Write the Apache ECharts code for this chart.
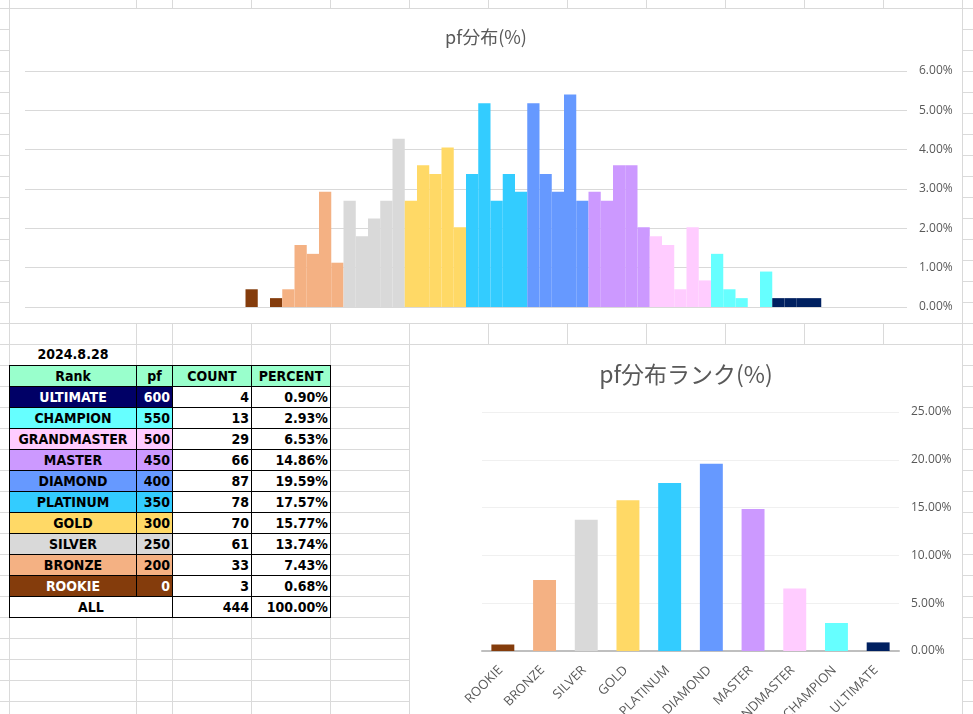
<!DOCTYPE html>
<html>
<head>
<meta charset="utf-8">
<script src="https://cdn.jsdelivr.net/npm/echarts@6/dist/echarts.min.js"></script>
<style>
  html,body{margin:0;padding:0;width:973px;height:714px;overflow:hidden;background:#fff;}
  #sheet{position:absolute;left:0;top:0;width:973px;height:714px;}
  .vline{position:absolute;top:0;width:1px;height:714px;background:#dadada;}
  #rows{position:absolute;left:0;top:8px;width:973px;height:706px;
        background-image:linear-gradient(#dadada 1px, transparent 1px);background-size:100% 21px;}
  .box{position:absolute;background:#fff;border:1px solid #d9d9d9;box-sizing:border-box;}
  .cell{position:absolute;box-sizing:border-box;border:1px solid #000;height:22px;line-height:21px;
        font-family:"DejaVu Sans Condensed","DejaVu Sans",sans-serif;font-stretch:condensed;font-weight:bold;
        font-size:14px;color:#000;white-space:nowrap;overflow:hidden;}
  .c{text-align:center;} .r{text-align:right;padding-right:2px;}
</style>
</head>
<body>
<div id="sheet">
  <div id="rows"></div>
</div>
<div class="box" style="left:9px;top:8px;width:954px;height:316px;">
  <div id="c1" style="position:absolute;left:0;top:0;width:952px;height:314px;"></div>
</div>
<div class="box" style="left:409px;top:344px;width:554px;height:380px;">
  <div id="c2" style="position:absolute;left:0;top:0;width:552px;height:369px;"></div>
</div>
<div id="table"></div>
<script>
// ---------- data ----------
const rankNames   = ['ROOKIE','BRONZE','SILVER','GOLD','PLATINUM','DIAMOND','MASTER','GRANDMASTER','CHAMPION','ULTIMATE'];
const rankPf      = [0,200,250,300,350,400,450,500,550,600];
const rankCount   = [3,33,61,70,78,87,66,29,13,4];
const rankPercent = [0.68,7.43,13.74,15.77,17.57,19.59,14.86,6.53,2.93,0.90];
const totalCount  = 444;
const totalPercentLabel = '100.00%';
const sheetDate   = '2024.8.28';
const tableHeaders = ['Rank','pf','COUNT','PERCENT'];

// histogram bins (pf lower bound, width 10) and counts per bin
const histBinStart = [-10,0,10,20,30,40,50,60,70,80,90,100,110,120,130,140,150,160,170,180,190,
  200,210,220,230,240,250,260,270,280,290,300,310,320,330,340,350,360,370,380,390,
  400,410,420,430,440,450,460,470,480,490,500,510,520,530,540,550,560,570,580,590,
  600,610,620,630,640,650,660,670,680,690,700];
const histCounts = [0,0,0,0,0,0,0,0,0,0,0,0,0,0,0,0,0,0,2,0,1,
  2,7,6,13,5, 12,8,10,12,19, 12,16,15,18,9, 15,23,12,15,13,
  23,15,13,24,12, 13,12,16,16,9, 8,7,2,9,3, 6,2,1,0,4,
  1,1,1,1,0,0,0,0,0,0,0];

const histTicks = [0,1,2,3,4,5,6];
const rankTicks = [0,5,10,15,20,25];

// ---------- styles ----------
const rankColors  = ['#843C0C','#F4B183','#D9D9D9','#FFD966','#33CCFF','#6699FF','#CC99FF','#FFCCFF','#66FFFF','#002060'];
const tableColors = ['#843C0C','#F4B183','#D9D9D9','#FFD966','#33CCFF','#6699FF','#CC99FF','#FFCCFF','#66FFFF','#000066'];
const tableText   = ['#fff','#000','#000','#000','#000','#000','#000','#000','#000','#fff'];
const colLines = [9,136,172,251,330,409,488,567,646,725,804,883,962];

// ---------- sheet grid ----------
const sheet = document.getElementById('sheet');
colLines.forEach(x=>{const d=document.createElement('div');d.className='vline';d.style.left=x+'px';sheet.appendChild(d);});

// ---------- table ----------
const tbl = document.getElementById('table');
function cell(x,y,w,text,cls,bg,col,border){
  const d=document.createElement('div');
  d.className='cell '+cls;
  d.style.left=x+'px';d.style.top=y+'px';d.style.width=(w+1)+'px';
  if(bg) d.style.background=bg;
  if(col) d.style.color=col;
  if(border===false) d.style.border='none';
  d.textContent=text;tbl.appendChild(d);
}
const cx=[9,136,172,251], cw=[127,36,79,79];
cell(9,344,127,sheetDate,'c',null,null,false);
tableHeaders.forEach((h,i)=>cell(cx[i],365,cw[i],h,'c','#99FFCC'));
for(let k=0;k<rankNames.length;k++){
  const i=rankNames.length-1-k, y=386+21*k;
  cell(cx[0],y,cw[0],rankNames[i],'c',tableColors[i],tableText[i]);
  cell(cx[1],y,cw[1],String(rankPf[i]),'r',tableColors[i],tableText[i]);
  cell(cx[2],y,cw[2],String(rankCount[i]),'r','#fff');
  cell(cx[3],y,cw[3],rankPercent[i].toFixed(2)+'%','r','#fff');
}
cell(9,596,163,'ALL','c','#fff');
cell(cx[2],596,cw[2],String(totalCount),'r','#fff');
cell(cx[3],596,cw[3],totalPercentLabel,'r','#fff');

// ---------- chart 1: histogram ----------
function rankOf(pf){let r=0;for(let i=0;i<rankPf.length;i++){if(rankPf[i]<=pf)r=i;}return r;}
const histData = histCounts.map((c,i)=>({value:c/totalCount*100,itemStyle:{color:rankColors[rankOf(histBinStart[i])]}}));
const pctFmt = v=>v.toFixed(2)+'%';
const labelFont = {fontFamily:'"Open Sans","Noto Sans",sans-serif',fontSize:12,color:'#595959'};

const c1 = echarts.init(document.getElementById('c1'),null,{renderer:'canvas'});
c1.setOption({
  animation:false,
  title:{text:'pf分布(%)',left:'center',top:14,
    textStyle:{fontFamily:'"Noto Sans CJK JP","Noto Sans",sans-serif',fontSize:18,fontWeight:'normal',color:'#595959'}},
  grid:{left:15,right:55,top:62,bottom:16,outerBoundsMode:'none',containLabel:false},
  xAxis:{type:'category',data:histBinStart.map(String),axisLine:{show:false},axisTick:{show:false},axisLabel:{show:false}},
  yAxis:{type:'value',position:'right',min:histTicks[0],max:histTicks[histTicks.length-1],interval:1,
    axisLabel:Object.assign({formatter:pctFmt,margin:12},labelFont),
    splitLine:{lineStyle:{color:'#d9d9d9',width:1}},axisLine:{show:false},axisTick:{show:false}},
  series:[{type:'bar',data:histData,barCategoryGap:'0%'}]
});

// ---------- chart 2: rank distribution ----------
const c2 = echarts.init(document.getElementById('c2'),null,{renderer:'canvas'});
c2.setOption({
  animation:false,
  title:{text:'pf分布ランク(%)',left:'center',top:13,
    textStyle:{fontFamily:'"Noto Sans CJK JP","Noto Sans",sans-serif',fontSize:23,fontWeight:'normal',color:'#595959'}},
  grid:{left:72,right:63,top:67,bottom:63,outerBoundsMode:'none',containLabel:false},
  xAxis:{type:'category',data:rankNames,
    axisLine:{lineStyle:{color:'#bfbfbf',width:2}},axisTick:{show:false},
    axisLabel:Object.assign({rotate:45,interval:0,margin:15,padding:[0,3,0,0]},labelFont,{fontSize:13})},
  yAxis:{type:'value',position:'right',min:rankTicks[0],max:rankTicks[rankTicks.length-1],interval:5,
    axisLabel:Object.assign({formatter:pctFmt,margin:12},labelFont),
    splitLine:{lineStyle:{color:'#f0f0f0',width:1}},axisLine:{show:false},axisTick:{show:false}},
  series:[{type:'bar',barCategoryGap:'45%',
    data:rankPercent.map((v,i)=>({value:v,itemStyle:{color:rankColors[i]}}))}]
});
</script>
</body>
</html>
